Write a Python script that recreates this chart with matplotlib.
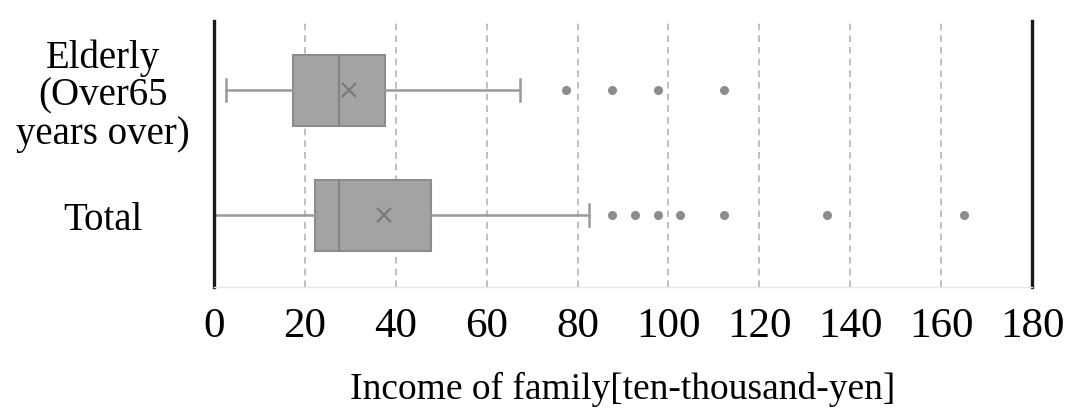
import numpy as np
import matplotlib
matplotlib.use("Agg")
import matplotlib.pyplot as plt

plt.rcParams['font.family'] = ['Liberation Serif', 'DejaVu Serif']

# box statistics per group (bottom to top)
categories = ["Total", "Elderly\n(Over65\nyears over)"]
whislo = [0.0, 2.6]
q1 = [22.3, 17.3]
med = [27.5, 27.4]
q3 = [47.7, 37.6]
whishi = [82.5, 67.3]
means = [37.5, 29.6]
fliers = [
    [87.5, 92.6, 97.6, 102.6, 112.3, 134.8, 165.0],
    [77.4, 87.5, 97.6, 112.3],
]
xticks = [0, 20, 40, 60, 80, 100, 120, 140, 160, 180]

stats = []
for i, name in enumerate(categories):
    stats.append(dict(label=name, whislo=whislo[i], q1=q1[i], med=med[i],
                      q3=q3[i], whishi=whishi[i], mean=means[i],
                      fliers=fliers[i]))

fig = plt.figure(figsize=(10.68, 4.10), dpi=100)
ax = fig.add_axes([214/1068, 1-288/410, (1032-214)/1068, 266/410])

grey_edge = '#8c8c8c'
ax.bxp(stats, positions=[1, 2], orientation='horizontal', widths=0.568,
       capwidths=0.176, patch_artist=True, showmeans=True,
       boxprops=dict(facecolor='#a3a3a3', edgecolor=grey_edge, linewidth=1.5),
       medianprops=dict(color='#828282', linewidth=1.5),
       whiskerprops=dict(color='#9a9a9a', linewidth=1.8),
       capprops=dict(color='#9a9a9a', linewidth=1.8),
       meanprops=dict(marker='x', markeredgecolor='#7a7a7a',
                      markersize=10, markeredgewidth=1.6),
       flierprops=dict(marker='o', markerfacecolor='#8c8c8c',
                       markeredgecolor='#8c8c8c', markersize=5.5))

# dashed reference lines at each inner tick
for v in xticks[1:-1]:
    ax.axvline(v, color='#b5b5b5', linestyle=(0, (4, 3)), linewidth=1.2,
               zorder=0)

ax.set_xlim(0, 180)
ax.set_ylim(0.424, 2.552)
ax.set_xticks(xticks)
ax.tick_params(axis='x', length=0, pad=14, labelsize=31)
ax.set_yticks([1, 2])
ax.set_yticklabels(categories, fontsize=28, linespacing=1.04)
for lbl in ax.get_yticklabels():
    lbl.set_horizontalalignment('center')
ax.tick_params(axis='y', length=0, pad=80)

ax.set_xlabel("Income of family[ten-thousand-yen]", fontsize=27, labelpad=19)

for side in ['left', 'right']:
    ax.spines[side].set_color('#1a1a1a')
    ax.spines[side].set_linewidth(2.4)
ax.spines['top'].set_visible(False)
ax.spines['bottom'].set_color('#e6e6e6')
ax.spines['bottom'].set_linewidth(1.0)

fig.savefig('out.png', dpi=100)
